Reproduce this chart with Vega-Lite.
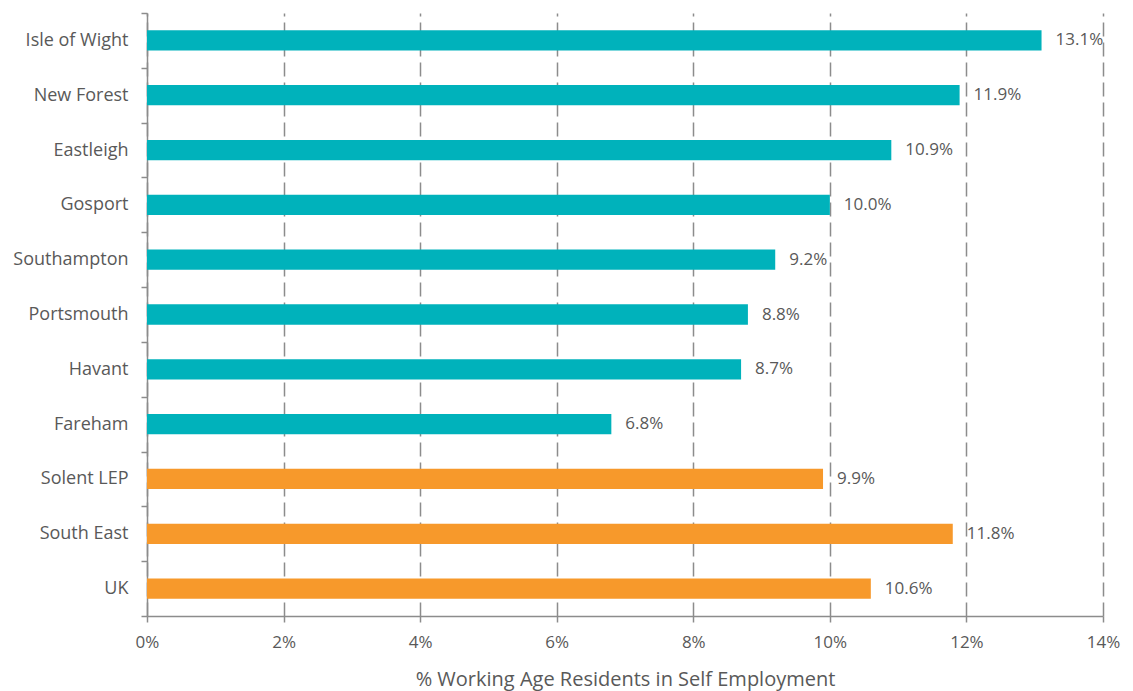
{
  "$schema": "https://vega.github.io/schema/vega-lite/v6.json",
  "width": 956,
  "height": 603,
  "autosize": {"type": "none"},
  "padding": {"left": 147, "top": 13, "right": 30, "bottom": 75},
  "background": "white",
  "config": {
    "view": {"stroke": null},
    "font": "Open Sans",
    "axis": {"labelFont": "Open Sans", "titleFont": "Open Sans"}
  },
  "data": {
    "values": [
      {"area": "Isle of Wight", "value": 0.131, "group": "local"},
      {"area": "New Forest", "value": 0.119, "group": "local"},
      {"area": "Eastleigh", "value": 0.109, "group": "local"},
      {"area": "Gosport", "value": 0.100, "group": "local"},
      {"area": "Southampton", "value": 0.092, "group": "local"},
      {"area": "Portsmouth", "value": 0.088, "group": "local"},
      {"area": "Havant", "value": 0.087, "group": "local"},
      {"area": "Fareham", "value": 0.068, "group": "local"},
      {"area": "Solent LEP", "value": 0.099, "group": "region"},
      {"area": "South East", "value": 0.118, "group": "region"},
      {"area": "UK", "value": 0.106, "group": "region"}
    ]
  },
  "encoding": {
    "y": {
      "field": "area",
      "type": "nominal",
      "sort": null,
      "scale": {"paddingInner": 0, "paddingOuter": 0},
      "axis": {
        "title": null,
        "domainColor": "#8c8c8c",
        "domainWidth": 1.5,
        "tickColor": "#8c8c8c",
        "tickWidth": 1.5,
        "tickSize": 6,
        "tickBand": "extent",
        "labelColor": "#595959",
        "labelFontSize": 18,
        "labelPadding": 13,
        "grid": false
      }
    },
    "x": {
      "field": "value",
      "type": "quantitative",
      "scale": {"domain": [0, 0.14], "nice": false},
      "axis": {
        "values": [0, 0.02, 0.04, 0.06, 0.08, 0.1, 0.12, 0.14],
        "format": ".0%",
        "labelFlush": false,
        "title": "% Working Age Residents in Self Employment",
        "titleColor": "#595959",
        "titleFontSize": 20,
        "titleFontWeight": "normal",
        "titlePadding": 19,
        "labelColor": "#595959",
        "labelFontSize": 17,
        "labelPadding": 12,
        "domainColor": "#8c8c8c",
        "domainWidth": 1.5,
        "tickColor": "#8c8c8c",
        "tickWidth": 1.5,
        "tickSize": 6,
        "grid": true,
        "gridColor": "#8c8c8c",
        "gridWidth": 1.5,
        "gridDash": [14, 6]
      }
    }
  },
  "layer": [
    {
      "mark": {"type": "bar", "height": {"band": 0.37}},
      "encoding": {
        "color": {
          "field": "group",
          "type": "nominal",
          "scale": {"domain": ["local", "region"], "range": ["#00b2bb", "#f7992b"]},
          "legend": null
        }
      }
    },
    {
      "mark": {"type": "text", "align": "left", "baseline": "middle", "dx": 14, "fontSize": 17, "color": "#595959"},
      "encoding": {
        "text": {"field": "value", "type": "quantitative", "format": ".1%"}
      }
    }
  ]
}
